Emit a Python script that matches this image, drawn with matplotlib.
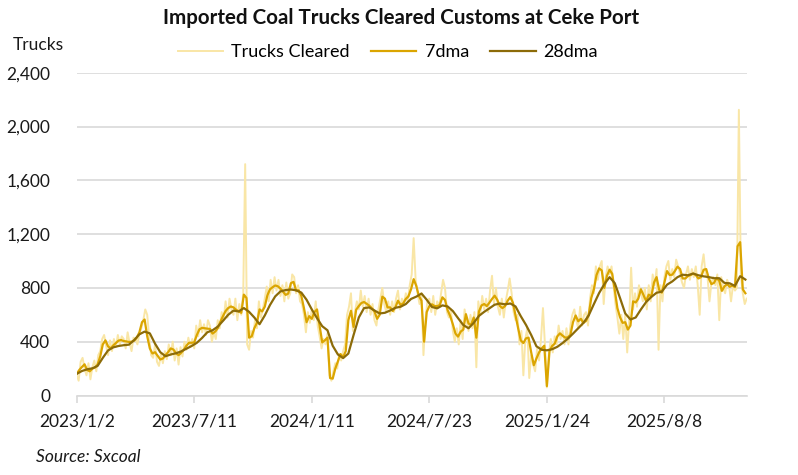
import numpy as np
import matplotlib
matplotlib.use("Agg")
import matplotlib.pyplot as plt
from matplotlib.ticker import FuncFormatter

# ---------------- data ----------------
# category axis: one category per reported day; tick every 180 categories
tick_labels = ["2023/1/2", "2023/7/11", "2024/1/11", "2024/7/23", "2025/1/24", "2025/8/8"]
n_categories = 1027
tick_step = 180

# Trucks Cleared (sampled every 3 categories)
raw_step = 3
trucks_cleared = [
    150, 110, 250, 280, 200, 150, 240, 120, 210, 260, 180, 300, 330, 420, 450, 370, 300, 410, 330, 420,
    360, 450, 380, 440, 420, 350, 470, 390, 330, 430, 420, 380, 460, 500, 560, 640, 600, 430, 300, 280,
    380, 250, 220, 310, 240, 330, 270, 380, 300, 400, 260, 350, 230, 360, 290, 400, 340, 430, 360, 420,
    350, 520, 440, 560, 470, 530, 450, 560, 520, 400, 470, 420, 560, 500, 620, 560, 700, 580, 720, 640,
    600, 720, 560, 680, 600, 760, 1720, 380, 340, 480, 430, 560, 500, 700, 580, 640, 720, 810, 700, 860,
    760, 880, 780, 860, 740, 820, 700, 840, 720, 760, 900, 880, 760, 820, 700, 680, 600, 470, 620, 540,
    640, 560, 700, 520, 440, 350, 420, 380, 460, 150, 110, 180, 240, 200, 310, 260, 330, 380, 600, 660,
    760, 480, 620, 700, 640, 780, 660, 740, 620, 720, 600, 680, 560, 520, 640, 720, 800, 680, 620, 700,
    600, 700, 620, 720, 780, 640, 720, 680, 760, 700, 820, 900, 1170, 860, 760, 680, 760, 300, 560, 700,
    720, 620, 740, 600, 700, 660, 760, 860, 800, 620, 580, 640, 480, 400, 500, 380, 560, 420, 640, 560,
    480, 600, 500, 620, 210, 700, 600, 740, 640, 720, 620, 780, 890, 680, 800, 660, 600, 720, 580, 700,
    780, 870, 760, 620, 560, 600, 380, 480, 150, 420, 500, 130, 300, 230, 180, 350, 260, 420, 650, 380,
    60, 300, 420, 320, 440, 380, 520, 420, 480, 380, 500, 380, 520, 600, 640, 560, 500, 660, 520, 600,
    620, 520, 720, 820, 760, 960, 860, 960, 1000, 680, 880, 960, 900, 960, 820, 680, 580, 460, 600, 420,
    600, 320, 560, 950, 640, 760, 660, 820, 760, 700, 800, 640, 820, 700, 900, 820, 940, 340, 820, 700,
    880, 960, 1000, 860, 940, 880, 1010, 960, 900, 840, 800, 900, 960, 860, 940, 880, 960, 820, 600, 960,
    1050, 900, 880, 700, 840, 880, 820, 900, 560, 880, 800, 760, 860, 820, 700, 820, 780, 800, 2124, 900,
    760, 680, 720,
]

# 7dma (sampled every 4 categories)
ma7_step = 4
dma7 = [
    161, 190, 212, 232, 190, 180, 200, 208, 230, 290,
    380, 410, 365, 350, 372, 390, 408, 412, 405, 402,
    398, 400, 408, 430, 470, 545, 565, 440, 350, 312,
    322, 295, 268, 275, 300, 322, 350, 342, 315, 300,
    318, 340, 370, 392, 392, 395, 450, 492, 503, 500,
    497, 495, 460, 475, 500, 548, 590, 628, 650, 662,
    655, 638, 625, 615, 750, 725, 430, 440, 500, 540,
    640, 625, 660, 745, 790, 805, 818, 812, 795, 772,
    748, 758, 835, 845, 780, 782, 740, 650, 545, 590,
    570, 620, 640, 520, 395, 410, 430, 130, 125, 200,
    255, 308, 285, 330, 560, 630, 510, 638, 665, 688,
    695, 682, 668, 648, 625, 570, 600, 735, 720, 655,
    655, 628, 655, 705, 673, 685, 718, 737, 790, 865,
    815, 740, 705, 400, 620, 665, 678, 665, 665, 672,
    730, 710, 635, 590, 530, 460, 438, 475, 490, 605,
    535, 525, 580, 430, 625, 670, 680, 665, 690, 718,
    742, 712, 665, 650, 665, 705, 732, 690, 595, 500,
    410, 390, 425, 430, 320, 225, 275, 320, 350, 370,
    70, 330, 368, 385, 440, 462, 445, 430, 432, 450,
    545, 595, 552, 570, 540, 555, 600, 725, 790, 895,
    945, 930, 800, 890, 935, 905, 784, 650, 582, 540,
    545, 490, 520, 700, 692, 720, 790, 745, 702, 750,
    736, 840, 880, 784, 765, 840, 925, 896, 898, 925,
    958, 940, 870, 870, 888, 896, 906, 896, 870, 880,
    935, 940, 870, 828, 838, 875, 852, 778, 812, 828,
    808, 818, 806, 1110, 1140, 790, 760,
]

# 28dma (sampled every 8 categories)
ma28_step = 8
dma28 = [
    161, 182, 195, 202, 220, 280, 335, 358, 368, 374,
    378, 412, 455, 475, 462, 385, 322, 292, 305, 314,
    328, 348, 368, 392, 428, 470, 485, 512, 555, 600,
    631, 625, 650, 622, 580, 530, 595, 673, 737, 774,
    784, 788, 782, 765, 712, 640, 575, 515, 485, 370,
    305, 278, 312, 450, 580, 650, 655, 632, 610, 615,
    632, 652, 660, 680, 718, 735, 758, 712, 658, 648,
    670, 662, 628, 575, 524, 500, 540, 592, 622, 648,
    675, 684, 678, 684, 662, 590, 525, 450, 366, 340,
    336, 344, 362, 390, 422, 460, 500, 540, 595, 680,
    762, 828, 880, 835, 725, 610, 565, 580, 640, 695,
    733, 764, 772, 824, 848, 880, 898, 894, 907, 894,
    886, 880, 872, 872, 837, 834, 815, 887, 862,
]

y_ticks = [0, 400, 800, 1200, 1600, 2000, 2400]

# ---------------- figure ----------------
FONT = "Lato"
plt.rcParams["font.family"] = [FONT, "DejaVu Sans"]

fig = plt.figure(figsize=(7.98, 4.75), dpi=100)
ax = fig.add_axes([76.7 / 798, 79.5 / 475, (746.7 - 76.7) / 798, (395.5 - 72.7) / 475])

c_raw = "#F9E6A6"
c_7 = "#DBA500"
c_28 = "#8C6B08"

x_raw = np.arange(len(trucks_cleared)) * raw_step
x_7 = np.arange(len(dma7)) * ma7_step
x_28 = np.arange(len(dma28)) * ma28_step

ax.plot(x_raw, trucks_cleared, color=c_raw, lw=1.4, label="Trucks Cleared", zorder=2)
ax.plot(x_7, dma7, color=c_7, lw=1.6, label="7dma", zorder=3)
ax.plot(x_28, dma28, color=c_28, lw=1.6, label="28dma", zorder=4)

ax.set_xlim(0, n_categories - 1)
ax.set_ylim(0, 2400)
ax.set_yticks(y_ticks)
ax.yaxis.set_major_formatter(FuncFormatter(lambda v, p: f"{int(v):,}"))
ax.set_xticks(np.arange(len(tick_labels)) * tick_step)
ax.set_xticklabels(tick_labels)

ax.grid(axis="y", color="#D9D9D9", lw=1.2, zorder=0)
ax.set_axisbelow(True)
for s in ["left", "right", "top"]:
    ax.spines[s].set_visible(False)
ax.spines["bottom"].set_color("#D9D9D9")
ax.spines["bottom"].set_linewidth(1.2)
ax.tick_params(axis="y", length=0, pad=19, labelsize=12.5, labelcolor="#1a1a1a")
ax.tick_params(axis="x", length=5, width=1.2, color="#D9D9D9", pad=8, labelsize=12.5,
               labelcolor="#1a1a1a")

fig.text(0.503, 1 - 18 / 475, "Imported Coal Trucks Cleared Customs at Ceke Port",
         ha="center", va="center", fontsize=14.8, fontweight="bold", color="#111111")
fig.text(13 / 798, 1 - 45 / 475, "Trucks", ha="left", va="center", fontsize=12.5, color="#1a1a1a")
fig.text(36 / 798, 1 - 457 / 475, "Source: Sxcoal", ha="left", va="center", fontsize=12.5,
         style="italic", color="#1a1a1a")

fig.legend(loc="center", bbox_to_anchor=(388 / 798, 1 - 52 / 475), ncol=3, frameon=False,
           fontsize=13, handlelength=2.5, columnspacing=1.2, handletextpad=0.45)

fig.savefig("out.png", dpi=100)
